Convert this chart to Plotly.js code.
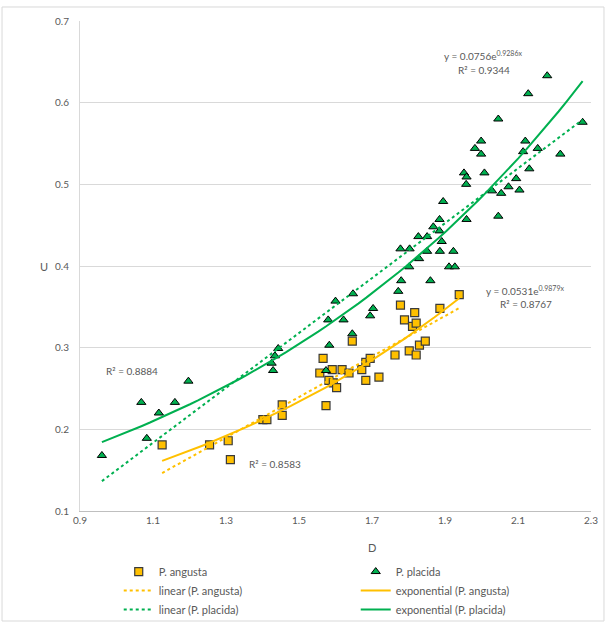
<!DOCTYPE html>
<html><head><meta charset="utf-8">
<script src="https://cdn.plot.ly/plotly-3.0.1.min.js"></script>
<style>html,body{margin:0;padding:0;background:#fff;}#chart{width:613px;height:623px;}</style>
</head><body><div id="chart"></div>
<script>
// ---- data ----
const angustaD = [1.125,1.255,1.306,1.312,1.401,1.412,1.454,1.454,1.557,1.566,1.574,1.582,1.591,1.594,1.603,1.618,1.637,1.646,1.672,1.683,1.683,1.695,1.719,1.763,1.778,1.789,1.802,1.811,1.817,1.821,1.821,1.830,1.846,1.886,1.939];
const angustaU = [0.181,0.181,0.186,0.163,0.212,0.212,0.230,0.217,0.269,0.287,0.229,0.260,0.273,0.257,0.251,0.273,0.269,0.308,0.273,0.282,0.260,0.287,0.264,0.291,0.352,0.334,0.296,0.326,0.343,0.330,0.291,0.303,0.308,0.348,0.365];
const placidaD = [0.960,1.068,1.083,1.116,1.160,1.197,1.425,1.429,1.434,1.443,1.574,1.580,1.583,1.600,1.622,1.646,1.648,1.695,1.703,1.772,1.778,1.780,1.802,1.803,1.827,1.829,1.851,1.851,1.860,1.868,1.885,1.885,1.886,1.891,1.895,1.911,1.923,1.927,1.952,1.958,1.959,1.959,1.982,1.999,1.999,2.008,2.029,2.046,2.046,2.054,2.074,2.095,2.104,2.114,2.120,2.128,2.131,2.154,2.180,2.216,2.277];
const placidaU = [0.168,0.233,0.189,0.220,0.233,0.259,0.281,0.272,0.290,0.299,0.272,0.334,0.303,0.357,0.334,0.317,0.366,0.339,0.348,0.369,0.421,0.382,0.399,0.421,0.436,0.409,0.418,0.436,0.382,0.448,0.443,0.457,0.418,0.430,0.479,0.399,0.418,0.399,0.514,0.500,0.457,0.509,0.544,0.537,0.553,0.514,0.492,0.461,0.580,0.489,0.497,0.507,0.493,0.540,0.553,0.611,0.519,0.544,0.633,0.537,0.576];
// exponential trendline coefficients as printed on the chart: y = a*e^(b*x)
const angustaExp = [0.0531, 0.9879];
const placidaExp = [0.0756, 0.9286];
const eqLabels = ['y = 0.0756e<sup>0.9286x</sup>', 'R² = 0.9344', 'y = 0.0531e<sup>0.9879x</sup>', 'R² = 0.8767', 'R² = 0.8884', 'R² = 0.8583'];
const seriesNames = ['P. angusta', 'P. placida', 'linear (P. angusta)', 'exponential (P. angusta)', 'linear (P. placida)', 'exponential (P. placida)'];
const xTicks = [0.9,1.1,1.3,1.5,1.7,1.9,2.1,2.3];
const yTicks = [0.1,0.2,0.3,0.4,0.5,0.6,0.7];

// ---- trendline helpers ----
function linFit(x, y){
  const n=x.length; let sx=0,sy=0,sxx=0,sxy=0;
  for(let i=0;i<n;i++){sx+=x[i];sy+=y[i];sxx+=x[i]*x[i];sxy+=x[i]*y[i];}
  const b=(n*sxy-sx*sy)/(n*sxx-sx*sx); const a=(sy-b*sx)/n; return [a,b];
}
function sample(x, f){
  const lo=Math.min(...x), hi=Math.max(...x), xs=[], ys=[];
  for(let i=0;i<=60;i++){const v=lo+(hi-lo)*i/60; xs.push(v); ys.push(f(v));}
  return {x:xs,y:ys};
}
const la = linFit(angustaD, angustaU), lp = linFit(placidaD, placidaU);
const linA = sample(angustaD, v=>la[0]+la[1]*v);
const linP = sample(placidaD, v=>lp[0]+lp[1]*v);
const expA = sample(angustaD, v=>angustaExp[0]*Math.exp(angustaExp[1]*v));
const expP = sample(placidaD, v=>placidaExp[0]*Math.exp(placidaExp[1]*v));

const ORANGE='#FFC000', GREEN='#00B050', GREY='#595959', FONT='Lato, "Open Sans", sans-serif';

const traces = [
  {x:angustaD, y:angustaU, name:seriesNames[0], mode:'markers', type:'scatter',
   marker:{symbol:'square', size:8, color:ORANGE, line:{color:'#3a3a3a', width:1.2}}},
  {x:placidaD, y:placidaU, name:seriesNames[1], mode:'markers', type:'scatter',
   marker:{symbol:'triangle-up', size:8, color:GREEN, line:{color:'#000', width:1}}},
  {x:linA.x, y:linA.y, name:seriesNames[2], mode:'lines', type:'scatter', line:{color:ORANGE, width:2, dash:'dot'}},
  {x:expA.x, y:expA.y, name:seriesNames[3], mode:'lines', type:'scatter', line:{color:ORANGE, width:2}},
  {x:linP.x, y:linP.y, name:seriesNames[4], mode:'lines', type:'scatter', line:{color:GREEN, width:2, dash:'dot'}},
  {x:expP.x, y:expP.y, name:seriesNames[5], mode:'lines', type:'scatter', line:{color:GREEN, width:2}}
];

function ann(text,x,y){return {text:text,x:x,y:y,xref:'x',yref:'y',showarrow:false,font:{family:FONT,size:10,color:GREY}};}

const layout = {
  width:613, height:623,
  margin:{l:80, r:22, t:21, b:112, autoexpand:false},
  paper_bgcolor:'#fff', plot_bgcolor:'#fff',
  font:{family:FONT, color:GREY, size:10},
  showlegend:true,
  legend:{orientation:'h', x:0.0758, y:-0.094, xanchor:'left', yanchor:'top',
          entrywidth:192, entrywidthmode:'pixels', font:{family:FONT,size:11,color:GREY}, bgcolor:'rgba(0,0,0,0)'},
  xaxis:{range:[0.9,2.3], tickvals:xTicks, ticktext:xTicks.map(v=>v.toFixed(1)), showgrid:false, zeroline:false,
         showline:true, linecolor:'#bfbfbf', linewidth:1, ticks:'', tickfont:{family:FONT,size:10,color:GREY}},
  yaxis:{range:[0.1,0.7], tickvals:yTicks, ticktext:yTicks.map(v=>v.toFixed(1)), showgrid:true, gridcolor:'#d9d9d9', gridwidth:1,
         zeroline:false, showline:true, linecolor:'#d9d9d9', linewidth:1, ticks:'', ticklabelstandoff:8,
         tickfont:{family:FONT,size:10,color:GREY}},
  annotations:[
    ann(eqLabels[0], 2.004, 0.658), ann(eqLabels[1], 2.007, 0.640),
    ann(eqLabels[2], 2.119, 0.370), ann(eqLabels[3], 2.122, 0.354),
    ann(eqLabels[4], 1.042, 0.272), ann(eqLabels[5], 1.434, 0.157),
    {text:'D', xref:'paper', yref:'paper', x:0.5714, y:-0.0735, showarrow:false, yanchor:'middle', font:{family:FONT,size:11,color:GREY}},
    {text:'U', xref:'paper', yref:'paper', x:-0.082, y:0.5, showarrow:false, textangle:0, font:{family:FONT,size:11,color:GREY}}
  ],
  shapes:[
    {type:'rect', xref:'paper', yref:'paper', x0:-0.1526, x1:1.0254, y0:-0.2245, y1:1.0286, line:{color:'#d9d9d9', width:1}, fillcolor:'rgba(0,0,0,0)', layer:'below'}
  ]
};
Plotly.newPlot('chart', traces, layout, {displayModeBar:false, staticPlot:true});
</script>
</body></html>
